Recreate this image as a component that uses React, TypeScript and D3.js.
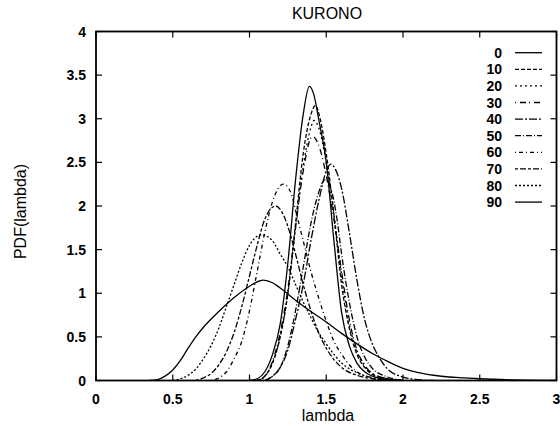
import React, { useRef, useEffect } from 'react';
import * as d3 from 'd3';

const TITLE = 'KURONO';
const X_LABEL = 'lambda';
const Y_LABEL = 'PDF(lambda)';
const X_TICKS = [0, 0.5, 1, 1.5, 2, 2.5, 3];
const Y_TICKS = [0, 0.5, 1, 1.5, 2, 2.5, 3, 3.5, 4];
const LEGEND = ['0', '10', '20', '30', '40', '50', '60', '70', '80', '90'];

// [lambda, pdf] pairs
const s0 = [[1.0, 0], [1.05, 0.02], [1.1, 0.1], [1.15, 0.3], [1.2, 0.65], [1.25, 1.35], [1.3, 2.3], [1.35, 3.05], [1.39, 3.37], [1.42, 3.27], [1.45, 3.0], [1.5, 2.5], [1.55, 1.6], [1.6, 0.78], [1.65, 0.4], [1.7, 0.2], [1.75, 0.1], [1.8, 0.05], [1.9, 0.01], [2.0, 0]];
const s10 = [[1.05, 0], [1.1, 0.05], [1.15, 0.2], [1.2, 0.5], [1.25, 1.0], [1.3, 1.8], [1.35, 2.6], [1.4, 3.05], [1.43, 3.15], [1.46, 3.0], [1.5, 2.6], [1.55, 1.9], [1.6, 1.1], [1.65, 0.6], [1.7, 0.3], [1.75, 0.15], [1.8, 0.07], [1.9, 0.02], [2.0, 0]];
const s20 = [[1.05, 0], [1.1, 0.05], [1.15, 0.2], [1.2, 0.5], [1.25, 1.0], [1.3, 1.75], [1.35, 2.45], [1.4, 2.9], [1.42, 2.98], [1.45, 2.9], [1.5, 2.5], [1.55, 1.9], [1.6, 1.2], [1.65, 0.65], [1.7, 0.33], [1.75, 0.17], [1.8, 0.08], [1.9, 0.02], [2.0, 0]];
const s30 = [[1.05, 0], [1.1, 0.05], [1.15, 0.22], [1.2, 0.55], [1.25, 1.05], [1.3, 1.75], [1.35, 2.4], [1.41, 2.8], [1.45, 2.7], [1.5, 2.35], [1.55, 1.85], [1.6, 1.25], [1.65, 0.7], [1.7, 0.35], [1.75, 0.18], [1.8, 0.08], [1.9, 0.02], [2.0, 0]];
const s40 = [[1.1, 0], [1.15, 0.05], [1.2, 0.15], [1.25, 0.35], [1.3, 0.7], [1.35, 1.1], [1.4, 1.6], [1.45, 2.05], [1.5, 2.4], [1.53, 2.48], [1.56, 2.42], [1.6, 2.2], [1.65, 1.7], [1.7, 1.15], [1.75, 0.7], [1.8, 0.42], [1.85, 0.25], [1.9, 0.13], [2.0, 0.04], [2.1, 0.01], [2.2, 0]];
const s50 = [[1.1, 0], [1.15, 0.05], [1.2, 0.15], [1.25, 0.4], [1.3, 0.8], [1.35, 1.3], [1.4, 1.8], [1.45, 2.15], [1.49, 2.3], [1.53, 2.2], [1.57, 1.85], [1.6, 1.45], [1.65, 0.9], [1.7, 0.5], [1.75, 0.27], [1.8, 0.14], [1.9, 0.04], [2.0, 0]];
const s60 = [[0.75, 0], [0.8, 0.03], [0.85, 0.1], [0.9, 0.25], [0.95, 0.45], [1.0, 0.8], [1.05, 1.25], [1.1, 1.7], [1.15, 2.05], [1.22, 2.25], [1.27, 2.15], [1.3, 1.95], [1.35, 1.6], [1.4, 1.25], [1.45, 0.95], [1.5, 0.68], [1.55, 0.45], [1.6, 0.3], [1.65, 0.18], [1.7, 0.1], [1.8, 0.03], [1.9, 0]];
const s70 = [[0.65, 0], [0.7, 0.03], [0.75, 0.08], [0.8, 0.18], [0.85, 0.33], [0.9, 0.55], [0.95, 0.85], [1.0, 1.2], [1.05, 1.55], [1.1, 1.85], [1.17, 2.0], [1.22, 1.9], [1.27, 1.65], [1.3, 1.45], [1.35, 1.1], [1.4, 0.8], [1.45, 0.55], [1.5, 0.37], [1.55, 0.24], [1.6, 0.15], [1.7, 0.06], [1.8, 0.02], [1.9, 0]];
const s80 = [[0.5, 0], [0.55, 0.02], [0.6, 0.06], [0.65, 0.13], [0.7, 0.25], [0.75, 0.4], [0.8, 0.6], [0.85, 0.85], [0.9, 1.1], [0.95, 1.35], [1.0, 1.55], [1.08, 1.67], [1.15, 1.6], [1.2, 1.45], [1.25, 1.3], [1.3, 1.1], [1.35, 0.9], [1.4, 0.72], [1.45, 0.55], [1.5, 0.42], [1.55, 0.3], [1.6, 0.2], [1.7, 0.09], [1.8, 0.03], [1.9, 0]];
const s90 = [[0.35, 0], [0.4, 0.01], [0.45, 0.05], [0.5, 0.12], [0.55, 0.23], [0.6, 0.37], [0.65, 0.5], [0.7, 0.61], [0.8, 0.79], [0.9, 0.95], [1.0, 1.08], [1.09, 1.15], [1.15, 1.12], [1.2, 1.06], [1.3, 0.92], [1.4, 0.79], [1.5, 0.67], [1.6, 0.54], [1.7, 0.42], [1.8, 0.31], [1.9, 0.22], [2.0, 0.14], [2.1, 0.09], [2.2, 0.06], [2.3, 0.04], [2.4, 0.03], [2.5, 0.02], [2.7, 0.008], [2.9, 0.002], [3.0, 0]];

const SERIES = [s0, s10, s20, s30, s40, s50, s60, s70, s80, s90];
const DASHES = ['none', '4,2', '2,3', '1,4,6,3', '8,2,2,2', '6,2,1,2', '1,3,4,3', '3,2,6,2', '2,2', 'none'];

function App() {
    const svgRef = useRef(null);
    const width = 560;
    const height = 426;
    const margin = { top: 31.5, right: 3.5, bottom: 45.5, left: 96 };

    useEffect(() => {
        const svg = d3.select(svgRef.current);
        svg.selectAll('*').remove();

        const xScale = d3.scaleLinear().domain([0, 3]).range([margin.left, width - margin.right]);
        const yScale = d3.scaleLinear().domain([0, 4]).range([height - margin.bottom, margin.top]);
        const [x0, x1] = xScale.range();
        const [y0, y1] = yScale.range();

        svg.append('defs').append('clipPath').attr('id', 'plot-clip')
            .append('rect').attr('x', x0).attr('y', y1).attr('width', x1 - x0).attr('height', y0 - y1);

        // ticks on all four sides, pointing inward
        const tickLen = 6;
        const ticks = svg.append('g').attr('stroke', '#000').attr('stroke-width', 1.2);
        X_TICKS.forEach(t => {
            ticks.append('line').attr('x1', xScale(t)).attr('x2', xScale(t)).attr('y1', y0).attr('y2', y0 - tickLen);
            ticks.append('line').attr('x1', xScale(t)).attr('x2', xScale(t)).attr('y1', y1).attr('y2', y1 + tickLen);
        });
        Y_TICKS.forEach(t => {
            ticks.append('line').attr('x1', x0).attr('x2', x0 + tickLen).attr('y1', yScale(t)).attr('y2', yScale(t));
            ticks.append('line').attr('x1', x1).attr('x2', x1 - tickLen).attr('y1', yScale(t)).attr('y2', yScale(t));
        });

        const labelFont = '"Liberation Sans", Arial, Helvetica, sans-serif';

        svg.append('g').selectAll('text').data(X_TICKS).join('text')
            .attr('x', d => xScale(d)).attr('y', 403.5)
            .attr('text-anchor', 'middle')
            .attr('font-family', labelFont).attr('font-size', 14).attr('font-weight', 'bold')
            .text(d => d);

        svg.append('g').selectAll('text').data(Y_TICKS).join('text')
            .attr('x', 86).attr('y', d => yScale(d)).attr('dy', '0.36em')
            .attr('text-anchor', 'end')
            .attr('font-family', labelFont).attr('font-size', 14).attr('font-weight', 'bold')
            .text(d => d);

        const line = d3.line()
            .x(d => xScale(d[0]))
            .y(d => yScale(d[1]))
            .curve(d3.curveMonotoneX);

        svg.append('g').attr('clip-path', 'url(#plot-clip)')
            .selectAll('path').data(SERIES).join('path')
            .attr('fill', 'none')
            .attr('stroke', '#000')
            .attr('stroke-width', 1.3)
            .attr('stroke-dasharray', (d, i) => DASHES[i])
            .attr('d', d => line(d));

        // frame
        svg.append('rect')
            .attr('x', x0).attr('y', y1).attr('width', x1 - x0).attr('height', y0 - y1)
            .attr('fill', 'none').attr('stroke', '#000').attr('stroke-width', 1.8);

        // legend
        const legend = svg.append('g');
        LEGEND.forEach((name, i) => {
            const y = 52.7 + i * 16.6;
            legend.append('text')
                .attr('x', 502).attr('y', y).attr('dy', '0.36em')
                .attr('text-anchor', 'end')
                .attr('font-family', labelFont).attr('font-size', 14).attr('font-weight', 'bold')
                .text(name);
            legend.append('line')
                .attr('x1', 515).attr('x2', 542).attr('y1', y).attr('y2', y)
                .attr('stroke', '#000').attr('stroke-width', 1.3)
                .attr('stroke-dasharray', DASHES[i]);
        });

        svg.append('text')
            .attr('x', 327).attr('y', 18.5)
            .attr('text-anchor', 'middle')
            .attr('font-family', labelFont).attr('font-size', 16)
            .text(TITLE);

        svg.append('text')
            .attr('x', 328).attr('y', 421)
            .attr('text-anchor', 'middle')
            .attr('font-family', labelFont).attr('font-size', 16)
            .text(X_LABEL);

        svg.append('text')
            .attr('transform', 'translate(26, 211.5) rotate(-90)')
            .attr('text-anchor', 'middle')
            .attr('font-family', labelFont).attr('font-size', 16)
            .text(Y_LABEL);
    }, []);

    return (
        <svg
            ref={svgRef}
            width={width}
            height={height}
            style={{ position: 'absolute', left: 0, top: 0, background: '#fff' }}
        />
    );
}

export default App;
